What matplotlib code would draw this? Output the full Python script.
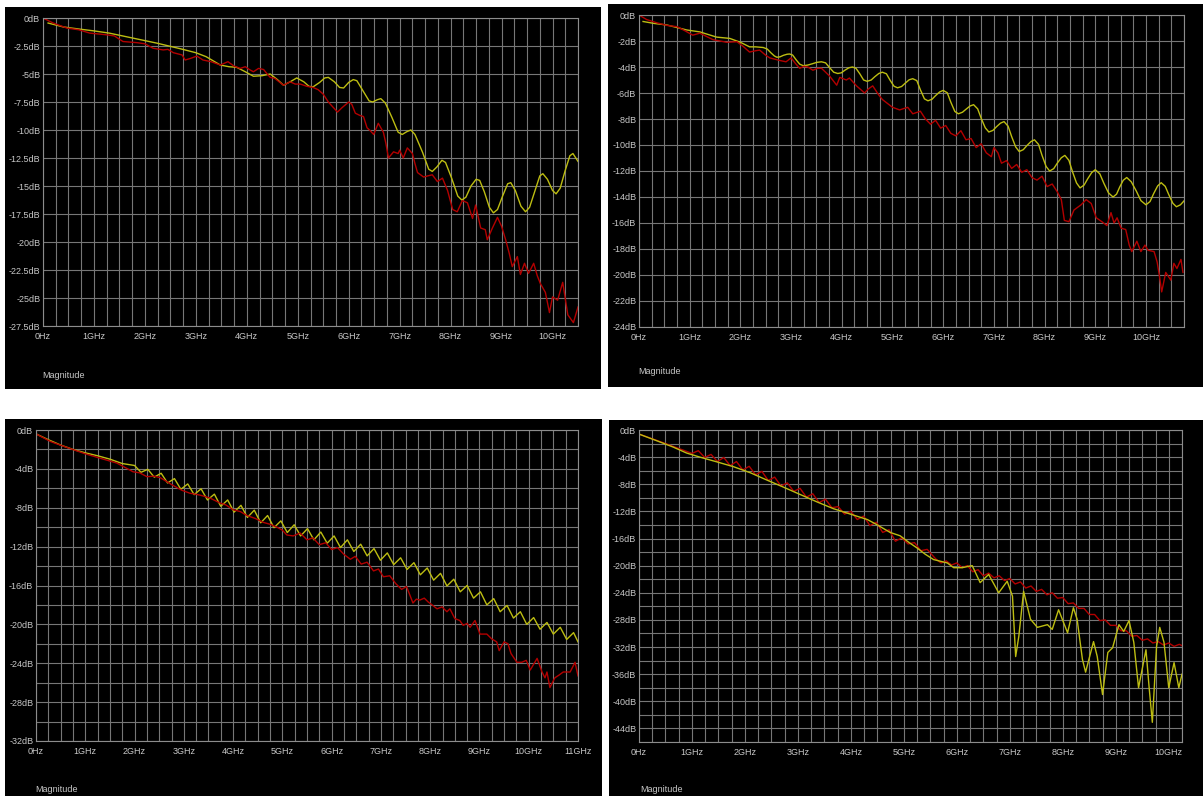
import matplotlib.pyplot as plt
from matplotlib.patches import Rectangle
from matplotlib.ticker import MultipleLocator

plt.rcParams['font.family'] = ['Liberation Sans', 'DejaVu Sans']

W, H = 1203, 796
GRID = '#777777'
FRAME = '#8c8c8c'
TXT = '#c8c8c8'
YEL = '#bdbd12'
RED = '#b30000'

# ---------------- panel 1 (0 .. 10.5 GHz, 0 .. -27.5 dB) ----------------
p1_yel_f = [0.10, 0.40, 0.73, 1.00, 1.30, 1.77, 2.24, 2.70, 3.00, 3.20, 3.35, 3.48, 3.65, 3.80,
            3.97, 4.13, 4.30, 4.46, 4.60, 4.72, 4.85, 4.98, 5.12, 5.22, 5.30, 5.43, 5.53, 5.60,
            5.72, 5.82, 5.90, 6.00, 6.09, 6.16, 6.28, 6.40, 6.47, 6.56, 6.63, 6.72, 6.85, 6.97,
            7.05, 7.14, 7.22, 7.30, 7.45, 7.57, 7.64, 7.73, 7.83, 7.90, 8.02, 8.14, 8.22, 8.30,
            8.40, 8.50, 8.57, 8.66, 8.76, 8.84, 8.92, 9.02, 9.12, 9.18, 9.27, 9.38, 9.47, 9.55,
            9.65, 9.75, 9.81, 9.90, 10.00, 10.07, 10.15, 10.25, 10.34, 10.40, 10.50]
p1_yel_db = [-0.45, -0.80, -1.00, -1.15, -1.35, -1.80, -2.25, -2.75, -3.10, -3.45, -3.85, -4.20,
             -4.35, -4.40, -4.80, -5.20, -5.15, -5.00, -5.50, -6.00, -5.70, -5.35, -5.70, -6.10,
             -6.15, -5.75, -5.35, -5.30, -5.70, -6.20, -6.25, -5.75, -5.50, -5.60, -6.50, -7.40,
             -7.50, -7.30, -7.20, -7.60, -8.90, -10.20, -10.40, -10.15, -10.00, -10.40, -12.00,
             -13.50, -13.70, -13.30, -12.70, -12.90, -14.30, -15.90, -16.25, -16.00, -15.00,
             -14.40, -14.50, -15.50, -16.90, -17.40, -17.10, -15.90, -14.80, -14.70, -15.40,
             -16.80, -17.30, -16.90, -15.50, -14.10, -13.90, -14.40, -15.40, -15.70, -15.20,
             -13.60, -12.30, -12.10, -12.80]
p1_red_f = [0.00, 0.20, 0.47, 0.70, 0.92, 1.25, 1.40, 1.57, 1.84, 2.00, 2.16, 2.36, 2.45, 2.56,
            2.73, 2.79, 2.90, 3.02, 3.14, 3.30, 3.48, 3.63, 3.75, 3.87, 3.97, 4.05, 4.13, 4.23,
            4.33, 4.40, 4.46, 4.55, 4.72, 4.85, 4.95, 5.05, 5.18, 5.30, 5.40, 5.50, 5.60, 5.70,
            5.78, 5.87, 6.00, 6.06, 6.13, 6.22, 6.29, 6.36, 6.43, 6.49, 6.58, 6.68, 6.73, 6.78,
            6.88, 6.97, 7.00, 7.07, 7.15, 7.25, 7.30, 7.35, 7.47, 7.55, 7.64, 7.74, 7.84, 7.94,
            8.04, 8.13, 8.23, 8.33, 8.43, 8.49, 8.59, 8.68, 8.72, 8.82, 8.92, 9.00, 9.08, 9.15,
            9.21, 9.31, 9.37, 9.45, 9.53, 9.63, 9.70, 9.76, 9.86, 9.94, 10.00, 10.10, 10.20,
            10.30, 10.41, 10.50]
p1_red_db = [0.00, -0.45, -0.90, -1.05, -1.35, -1.50, -1.60, -2.10, -2.20, -2.30, -2.70, -2.85,
             -2.80, -3.10, -3.30, -3.75, -3.60, -3.40, -3.75, -3.90, -4.20, -3.90, -4.30, -4.50,
             -4.35, -4.60, -4.80, -4.50, -4.60, -5.00, -5.30, -5.40, -6.00, -5.70, -5.90, -5.90,
             -6.10, -6.20, -6.40, -6.80, -7.50, -8.00, -8.40, -8.00, -7.50, -7.70, -8.50, -8.70,
             -8.80, -9.80, -10.10, -10.40, -9.40, -10.20, -11.20, -12.50, -11.95, -12.10, -11.80,
             -12.50, -11.60, -12.10, -13.00, -13.80, -14.20, -14.10, -14.00, -14.60, -14.30,
             -15.40, -17.10, -17.30, -16.30, -16.50, -17.90, -16.70, -18.75, -18.90, -19.80,
             -18.75, -17.80, -18.60, -19.80, -21.00, -22.20, -21.30, -22.90, -21.90, -22.80,
             -21.90, -23.00, -23.70, -24.50, -26.30, -24.90, -25.20, -23.60, -26.50, -27.20,
             -25.80]
p1_yticks = [0, -2.5, -5, -7.5, -10, -12.5, -15, -17.5, -20, -22.5, -25, -27.5]

# ---------------- panel 2 (0 .. 10.75 GHz, 0 .. -24 dB) ----------------
p2_yel_f = [0.08, 0.30, 0.55, 0.94, 1.20, 1.53, 1.79, 2.00, 2.18, 2.30, 2.45, 2.53, 2.60, 2.67,
            2.72, 2.78, 2.85, 2.92, 2.97, 3.03, 3.10, 3.17, 3.24, 3.33, 3.42, 3.51, 3.60, 3.68,
            3.76, 3.84, 3.92, 3.99, 4.06, 4.14, 4.21, 4.28, 4.36, 4.43, 4.50, 4.58, 4.65, 4.73,
            4.80, 4.88, 4.95, 5.03, 5.10, 5.18, 5.25, 5.33, 5.40, 5.48, 5.55, 5.63, 5.70, 5.78,
            5.85, 5.93, 6.00, 6.08, 6.15, 6.23, 6.30, 6.38, 6.45, 6.53, 6.60, 6.68, 6.75, 6.83,
            6.90, 6.98, 7.05, 7.13, 7.20, 7.28, 7.35, 7.43, 7.50, 7.58, 7.65, 7.73, 7.80, 7.88,
            7.95, 8.03, 8.10, 8.18, 8.25, 8.33, 8.40, 8.48, 8.55, 8.63, 8.70, 8.78, 8.85, 8.93,
            9.00, 9.09, 9.17, 9.26, 9.35, 9.42, 9.48, 9.55, 9.62, 9.71, 9.81, 9.90, 10.00, 10.08,
            10.15, 10.23, 10.30, 10.38, 10.45, 10.53, 10.60, 10.68, 10.75]
p2_yel_db = [-0.50, -0.65, -0.77, -1.15, -1.30, -1.70, -1.80, -2.10, -2.45, -2.45, -2.50, -2.62,
             -2.90, -3.15, -3.25, -3.22, -3.10, -3.02, -3.00, -3.08, -3.45, -3.78, -3.90, -3.85,
             -3.75, -3.64, -3.60, -3.68, -4.05, -4.40, -4.50, -4.45, -4.25, -4.06, -4.00, -4.10,
             -4.55, -5.00, -5.10, -5.00, -4.75, -4.50, -4.40, -4.52, -5.00, -5.48, -5.60, -5.50,
             -5.25, -4.98, -4.90, -5.05, -5.75, -6.45, -6.60, -6.48, -6.20, -5.92, -5.80, -5.98,
             -6.70, -7.42, -7.60, -7.48, -7.25, -7.00, -6.90, -7.22, -7.95, -8.68, -9.00, -8.88,
             -8.60, -8.32, -8.20, -8.55, -9.35, -10.15, -10.50, -10.36, -10.05, -9.74, -9.60,
             -9.95, -10.80, -11.65, -12.00, -11.82, -11.40, -10.98, -10.80, -11.18, -12.05,
             -12.92, -13.30, -13.08, -12.60, -12.12, -11.90, -12.22, -12.95, -13.68, -14.00,
             -13.78, -13.25, -12.72, -12.50, -12.83, -13.55, -14.28, -14.60, -14.35, -13.75,
             -13.15, -12.90, -13.18, -13.82, -14.48, -14.75, -14.60, -14.30]
p2_red_f = [0.00, 0.15, 0.35, 0.55, 0.75, 0.90, 1.06, 1.20, 1.33, 1.46, 1.60, 1.73, 1.93, 2.05,
            2.18, 2.30, 2.38, 2.50, 2.58, 2.78, 2.90, 3.00, 3.08, 3.17, 3.25, 3.33, 3.43, 3.52,
            3.60, 3.68, 3.76, 3.90, 3.96, 4.09, 4.15, 4.29, 4.45, 4.52, 4.61, 4.72, 4.80, 5.00,
            5.14, 5.30, 5.40, 5.55, 5.65, 5.75, 5.85, 5.95, 6.05, 6.15, 6.25, 6.35, 6.45, 6.55,
            6.65, 6.75, 6.85, 6.95, 7.00, 7.08, 7.15, 7.25, 7.35, 7.45, 7.55, 7.65, 7.75, 7.85,
            7.95, 8.05, 8.15, 8.25, 8.33, 8.39, 8.48, 8.58, 8.72, 8.82, 8.92, 9.02, 9.13, 9.23,
            9.31, 9.37, 9.43, 9.51, 9.60, 9.67, 9.72, 9.82, 9.90, 9.98, 10.04, 10.16, 10.22,
            10.27, 10.31, 10.39, 10.49, 10.55, 10.61, 10.69, 10.73]
p2_red_db = [0.00, -0.35, -0.60, -0.80, -0.90, -1.20, -1.55, -1.40, -1.65, -1.90, -2.00, -2.10,
             -2.05, -2.40, -2.85, -2.75, -2.70, -3.10, -3.30, -3.50, -3.60, -3.30, -3.70, -4.10,
             -3.95, -4.00, -4.25, -4.10, -4.10, -4.40, -4.70, -5.40, -4.80, -5.00, -4.85, -5.45,
             -6.00, -5.70, -5.45, -6.10, -6.50, -7.10, -7.30, -7.10, -7.60, -7.40, -8.00, -8.40,
             -8.10, -8.70, -8.50, -9.10, -9.30, -8.90, -9.60, -9.50, -10.20, -9.90, -10.60,
             -10.90, -10.20, -10.60, -11.40, -11.20, -11.80, -11.50, -12.10, -11.90, -12.50,
             -12.70, -12.40, -13.20, -13.00, -13.60, -14.20, -15.80, -15.90, -15.00, -14.60,
             -14.20, -14.50, -15.60, -15.90, -16.20, -15.20, -16.00, -15.60, -16.40, -16.50,
             -17.70, -18.20, -17.40, -18.20, -17.70, -18.10, -18.20, -19.00, -20.20, -21.30,
             -19.80, -20.40, -19.10, -19.50, -18.80, -19.80]
p2_yticks = [0, -2, -4, -6, -8, -10, -12, -14, -16, -18, -20, -22, -24]

# ---------------- panel 3 (0 .. 11 GHz, 0 .. -32 dB) ----------------
p3_yel_f = [0.00, 0.25, 0.50, 0.75, 1.00, 1.25, 1.50, 1.75, 2.00, 2.13, 2.27, 2.40, 2.54, 2.67,
            2.81, 2.94, 3.08, 3.21, 3.35, 3.48, 3.62, 3.75, 3.89, 4.02, 4.16, 4.29, 4.43, 4.56,
            4.70, 4.83, 4.97, 5.10, 5.24, 5.37, 5.51, 5.64, 5.78, 5.91, 6.05, 6.18, 6.32, 6.45,
            6.59, 6.72, 6.86, 6.99, 7.13, 7.26, 7.40, 7.53, 7.67, 7.80, 7.94, 8.07, 8.21, 8.34,
            8.48, 8.61, 8.75, 8.88, 9.02, 9.15, 9.29, 9.42, 9.56, 9.69, 9.83, 9.96, 10.10, 10.23,
            10.37, 10.50, 10.64, 10.77, 10.91, 11.00]
p3_yel_db = [-0.40, -1.00, -1.55, -2.00, -2.35, -2.65, -3.00, -3.45, -3.65, -4.35, -4.05, -4.85,
             -4.45, -5.45, -5.00, -6.10, -5.55, -6.65, -6.05, -7.20, -6.60, -7.85, -7.20, -8.45,
             -7.75, -9.00, -8.25, -9.55, -8.80, -10.05, -9.35, -10.55, -9.75, -10.90, -10.15,
             -11.30, -10.50, -11.65, -10.90, -12.10, -11.30, -12.50, -11.75, -12.95, -12.20,
             -13.40, -12.65, -13.85, -13.15, -14.35, -13.65, -14.90, -14.20, -15.45, -14.75,
             -16.05, -15.35, -16.65, -16.00, -17.30, -16.65, -18.00, -17.35, -18.70, -18.05,
             -19.35, -18.70, -20.00, -19.30, -20.50, -19.80, -21.00, -20.30, -21.55, -20.85,
             -21.80]
p3_red_f = [0.00, 0.30, 0.63, 1.00, 1.30, 1.64, 1.97, 2.10, 2.25, 2.40, 2.52, 2.65, 2.78, 2.96,
            3.12, 3.33, 3.53, 3.73, 3.85, 4.00, 4.15, 4.28, 4.45, 4.61, 4.75, 4.89, 5.00, 5.09,
            5.22, 5.36, 5.50, 5.62, 5.75, 5.88, 6.00, 6.12, 6.25, 6.38, 6.48, 6.60, 6.72, 6.85,
            6.95, 7.05, 7.18, 7.30, 7.42, 7.52, 7.65, 7.72, 7.79, 7.88, 7.96, 8.04, 8.14, 8.24,
            8.34, 8.40, 8.50, 8.60, 8.67, 8.75, 8.81, 8.91, 9.01, 9.15, 9.25, 9.35, 9.40, 9.50,
            9.58, 9.64, 9.76, 9.86, 9.95, 10.03, 10.17, 10.27, 10.33, 10.37, 10.43, 10.53, 10.62,
            10.70, 10.84, 10.94, 11.00]
p3_red_db = [-0.40, -1.20, -1.80, -2.45, -2.90, -3.40, -4.30, -4.40, -4.80, -4.75, -4.90, -5.30,
             -5.70, -6.20, -6.50, -6.70, -7.00, -7.50, -7.70, -8.20, -8.40, -8.80, -9.10, -9.50,
             -9.70, -10.00, -10.30, -10.80, -10.90, -10.60, -11.30, -11.10, -11.80, -11.60,
             -12.30, -12.10, -12.80, -13.30, -13.00, -13.80, -13.60, -14.50, -14.30, -15.10,
             -15.00, -15.80, -16.40, -16.10, -17.80, -17.40, -17.50, -17.30, -17.70, -18.00,
             -18.40, -18.20, -18.70, -18.40, -19.40, -19.60, -20.10, -19.90, -20.30, -19.60,
             -21.00, -21.00, -21.50, -21.80, -22.70, -21.80, -22.00, -23.00, -23.90, -23.90,
             -23.70, -24.70, -23.50, -24.90, -25.50, -24.90, -26.50, -25.50, -25.20, -24.90,
             -24.90, -23.90, -25.30]
p3_yticks = [0, -4, -8, -12, -16, -20, -24, -28, -32]

# ---------------- panel 4 (0 .. 10.25 GHz, 0 .. -46 dB) ----------------
p4_yel_f = [0.00, 0.34, 0.64, 0.90, 1.15, 1.47, 1.78, 2.10, 2.42, 2.72, 3.04, 3.36, 3.67, 3.99,
            4.31, 4.50, 4.74, 4.93, 5.10, 5.25, 5.40, 5.56, 5.82, 5.94, 6.10, 6.22, 6.29, 6.44,
            6.60, 6.79, 6.95, 7.05, 7.11, 7.17, 7.26, 7.39, 7.52, 7.71, 7.80, 7.92, 8.09, 8.20,
            8.27, 8.37, 8.43, 8.58, 8.65, 8.75, 8.85, 8.94, 9.06, 9.15, 9.25, 9.34, 9.43, 9.57,
            9.63, 9.69, 9.77, 9.83, 9.91, 10.00, 10.10, 10.19, 10.25]
p4_yel_db = [-0.60, -1.60, -2.50, -3.40, -4.00, -4.70, -5.40, -6.30, -7.40, -8.40, -9.50, -10.60,
             -11.60, -12.40, -13.20, -14.00, -15.10, -15.60, -16.60, -17.40, -18.30, -19.10,
             -19.60, -20.30, -20.30, -20.10, -20.00, -22.50, -21.30, -24.00, -22.30, -24.50,
             -33.40, -30.40, -23.80, -27.90, -29.10, -28.70, -29.40, -26.50, -29.90, -26.20,
             -27.90, -33.80, -35.70, -31.20, -33.40, -39.00, -32.80, -32.10, -28.70, -29.70,
             -28.10, -31.30, -38.00, -32.40, -38.00, -43.10, -31.90, -29.10, -31.30, -38.00,
             -34.30, -38.00, -36.00]
p4_red_f = [0.00, 0.50, 1.00, 1.12, 1.24, 1.36, 1.48, 1.60, 1.72, 1.84, 1.96, 2.08, 2.20, 2.32,
            2.44, 2.56, 2.68, 2.80, 2.92, 3.04, 3.16, 3.28, 3.40, 3.52, 3.64, 3.76, 3.88, 4.00,
            4.12, 4.24, 4.36, 4.48, 4.60, 4.72, 4.84, 4.96, 5.08, 5.20, 5.32, 5.44, 5.60, 5.70,
            5.80, 5.90, 6.00, 6.10, 6.20, 6.30, 6.40, 6.50, 6.60, 6.70, 6.80, 6.90, 7.00, 7.10,
            7.20, 7.30, 7.40, 7.50, 7.60, 7.70, 7.80, 7.90, 8.00, 8.10, 8.20, 8.30, 8.40, 8.50,
            8.60, 8.70, 8.80, 8.90, 9.00, 9.10, 9.20, 9.30, 9.40, 9.50, 9.60, 9.70, 9.80, 9.90,
            10.00, 10.10, 10.20, 10.25]
p4_red_db = [-0.60, -2.00, -3.45, -3.05, -4.05, -3.60, -4.65, -4.05, -5.25, -4.65, -5.90, -5.35,
             -6.60, -6.10, -7.45, -6.95, -8.25, -7.80, -9.05, -8.60, -9.90, -9.40, -10.70, -10.20,
             -11.45, -11.30, -12.40, -12.00, -13.20, -12.70, -14.10, -13.60, -15.10, -14.70,
             -16.40, -15.90, -16.80, -16.60, -17.80, -17.60, -19.00, -19.60, -19.30, -19.90,
             -19.60, -20.30, -20.00, -20.90, -20.60, -21.50, -21.10, -21.80, -21.50, -22.20,
             -21.90, -22.70, -22.40, -23.30, -23.00, -23.80, -23.50, -24.30, -24.00, -24.80,
             -24.70, -25.60, -25.50, -26.30, -26.30, -27.20, -27.20, -28.10, -28.00, -28.80,
             -28.80, -29.60, -29.60, -30.40, -30.30, -31.00, -30.80, -31.40, -31.20, -31.70,
             -31.40, -31.90, -31.60, -31.80]
p4_yticks = [0, -4, -8, -12, -16, -20, -24, -28, -32, -36, -40, -44]


def frac(x0, y0, x1, y1):
    # pixel box (top-left origin) -> figure fraction [left, bottom, width, height]
    return [x0 / W, 1 - y1 / H, (x1 - x0) / W, (y1 - y0) / H]


def draw_panel(fig, box, area, xmax, ymin, yticks, ygrid_step, n_ghz, traces, mag_xy):
    l, b, w, h = frac(*box)
    fig.add_artist(Rectangle((l, b), w, h, transform=fig.transFigure,
                             facecolor='black', edgecolor='none', zorder=0))
    ax = fig.add_axes(frac(*area))
    ax.set_facecolor('black')
    ax.set_xlim(0, xmax)
    ax.set_ylim(ymin, 0)

    ax.set_xticks(range(n_ghz + 1))
    ax.set_xticklabels(['0Hz'] + [f'{g}GHz' for g in range(1, n_ghz + 1)])
    ax.xaxis.set_minor_locator(MultipleLocator(0.25))
    ax.set_yticks(yticks)
    ax.set_yticklabels([f'{v:g}dB' for v in yticks])
    ax.yaxis.set_minor_locator(MultipleLocator(ygrid_step))

    ax.tick_params(which='both', length=0, colors=TXT, labelsize=6.5)
    ax.tick_params(axis='x', pad=4.5)
    ax.tick_params(axis='y', pad=2)
    ax.grid(which='both', color=GRID, linewidth=0.8)
    ax.set_axisbelow(True)
    for s in ax.spines.values():
        s.set_color(FRAME)
        s.set_linewidth(0.8)

    for f, db, c in traces:
        ax.plot(f, db, color=c, linewidth=1.0, solid_joinstyle='round')

    fig.text(mag_xy[0] / W, 1 - mag_xy[1] / H, 'Magnitude', color=TXT,
             fontsize=6.5, ha='left', va='center')
    return ax


fig = plt.figure(figsize=(W / 100, H / 100), dpi=100, facecolor='white')

draw_panel(fig, (5, 7, 601, 389), (43, 18, 578, 326), 10.5, -27.5, p1_yticks, 2.5, 10,
           [(p1_yel_f, p1_yel_db, YEL), (p1_red_f, p1_red_db, RED)], (42, 375))
draw_panel(fig, (608, 4, 1203, 387), (639, 15, 1184, 327), 10.75, -24, p2_yticks, 2, 10,
           [(p2_yel_f, p2_yel_db, YEL), (p2_red_f, p2_red_db, RED)], (638, 372))
draw_panel(fig, (5, 419, 602, 796), (36, 430, 578, 741), 11, -32, p3_yticks, 2, 11,
           [(p3_yel_f, p3_yel_db, YEL), (p3_red_f, p3_red_db, RED)], (35, 789))
draw_panel(fig, (609, 420, 1203, 796), (639, 430, 1182, 742), 10.25, -46, p4_yticks, 2, 10,
           [(p4_red_f, p4_red_db, RED), (p4_yel_f, p4_yel_db, YEL)], (640, 789))

fig.savefig('out.png', dpi=100, facecolor='white')
